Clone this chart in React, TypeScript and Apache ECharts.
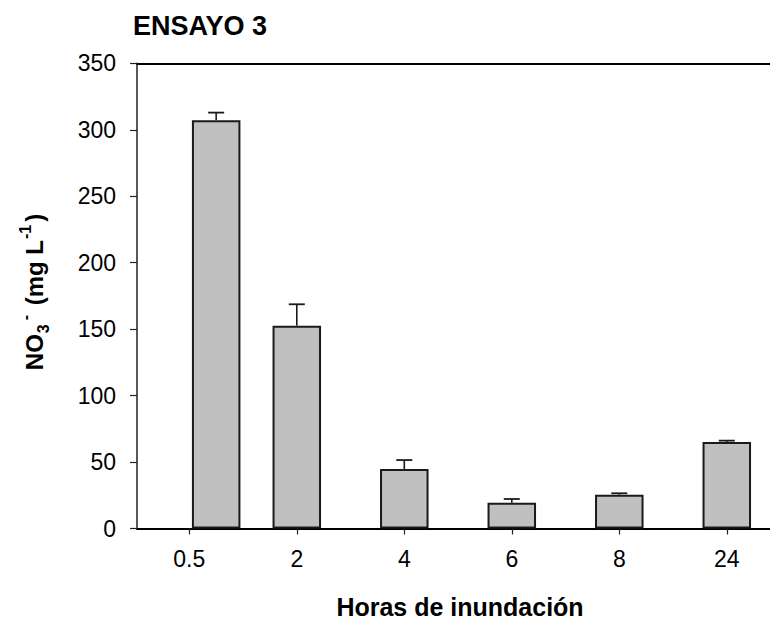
import React, { useEffect, useRef } from "react";
import * as echarts from "echarts";

const categories = ["0.5", "2", "4", "6", "8", "24"];
const barPositions = [0.25, 1, 2, 3, 4, 5];
const meanValues = [307.2, 152.6, 44.8, 19.4, 25.4, 65.1];
const errorValues = [5.7, 16.1, 6.7, 2.8, 1.1, 1.0];
const yTicks = [0, 50, 100, 150, 200, 250, 300, 350];

const FONT = "'Liberation Sans', Arial, Helvetica, sans-serif";

export default function App() {
  const ref = useRef<HTMLDivElement>(null);
  useEffect(() => {
    if (!ref.current) return;
    const chart = echarts.init(ref.current, undefined, { renderer: "svg" });
    const tickIdx = categories.map((_, i) => i);
    const barData = barPositions.map((x, i) => [x, meanValues[i]]);
    const errData = barPositions.map((x, i) => [x, meanValues[i], errorValues[i]]);
    chart.setOption({
      animation: false,
      backgroundColor: "#ffffff",
      grid: { left: 137, right: 0, top: 63.3, bottom: 94.5, containLabel: false },
      xAxis: [
        {
          type: "value",
          min: -0.4865,
          max: 5.402,
          axisLine: { show: true, onZero: false, lineStyle: { color: "#000", width: 2 } },
          axisTick: { show: true, customValues: tickIdx, length: 6, lineStyle: { color: "#222", width: 1.2 } },
          axisLabel: {
            show: true,
            customValues: tickIdx,
            formatter: (v: number) => categories[Math.round(v)] ?? "",
            fontSize: 23,
            color: "#000",
            fontFamily: FONT,
            margin: 19,
          },
          splitLine: { show: false },
        },
        {
          type: "value",
          position: "top",
          min: -0.4865,
          max: 5.402,
          axisLine: { show: true, onZero: false, lineStyle: { color: "#000", width: 2 } },
          axisTick: { show: false },
          axisLabel: { show: false },
          splitLine: { show: false },
        },
      ],
      yAxis: {
        type: "value",
        min: yTicks[0],
        max: yTicks[yTicks.length - 1],
        interval: 50,
        axisLine: { show: true, onZero: false, lineStyle: { color: "#222", width: 1.5 } },
        axisTick: { show: true, length: 7, lineStyle: { color: "#222", width: 1.2 } },
        axisLabel: { fontSize: 23, color: "#000", fontFamily: FONT, margin: 21 },
        splitLine: { show: false },
      },
      series: [
        {
          type: "bar",
          xAxisIndex: 0,
          data: barData,
          barWidth: 48.5,
          itemStyle: { color: "#c0c0c0", borderColor: "#1a1a1a", borderWidth: 2 },
          z: 2,
        },
        {
          type: "custom",
          xAxisIndex: 0,
          data: errData,
          z: 3,
          renderItem: (params: any, api: any) => {
            const x = api.value(0);
            const m = api.value(1);
            const e = api.value(2);
            const base = api.coord([x, m]);
            const top = api.coord([x, m + e]);
            const half = 8;
            return {
              type: "group",
              children: [
                {
                  type: "line",
                  shape: { x1: base[0], y1: base[1], x2: top[0], y2: top[1] },
                  style: { stroke: "#1a1a1a", lineWidth: 1.6 },
                },
                {
                  type: "line",
                  shape: { x1: top[0] - half, y1: top[1], x2: top[0] + half, y2: top[1] },
                  style: { stroke: "#1a1a1a", lineWidth: 1.8 },
                },
              ],
            };
          },
        },
      ],
      graphic: [
        {
          type: "text",
          x: 133,
          y: 26,
          style: {
            text: "ENSAYO 3",
            font: `bold 27px ${FONT}`,
            fill: "#000",
            verticalAlign: "middle",
            align: "left",
          },
        },
        {
          type: "text",
          x: 460,
          y: 607,
          style: {
            text: "Horas de inundación",
            font: `bold 25px ${FONT}`,
            fill: "#000",
            verticalAlign: "middle",
            align: "center",
          },
        },
        {
          type: "text",
          x: 34,
          y: 292,
          rotation: Math.PI / 2,
          style: {
            text: "{m|NO}{sub|3}{sup|-}{m| (mg L}{sup|-1}{m|)}",
            align: "center",
            verticalAlign: "middle",
            fill: "#000",
            rich: {
              m: { fontSize: 24, fontWeight: "bold", fontFamily: FONT, lineHeight: 34, verticalAlign: "middle", fill: "#000" },
              sub: { fontSize: 16, fontWeight: "bold", fontFamily: FONT, lineHeight: 34, verticalAlign: "bottom", padding: [0, 3, 0, 1], fill: "#000" },
              sup: { fontSize: 16, fontWeight: "bold", fontFamily: FONT, lineHeight: 34, verticalAlign: "top", padding: [0, 3, 0, 1], fill: "#000" },
            },
          },
        },
      ],
    });
    return () => chart.dispose();
  }, []);
  return (
    <div
      ref={ref}
      style={{ position: "fixed", left: 0, top: 0, width: 770, height: 623, background: "#fff" }}
    />
  );
}
